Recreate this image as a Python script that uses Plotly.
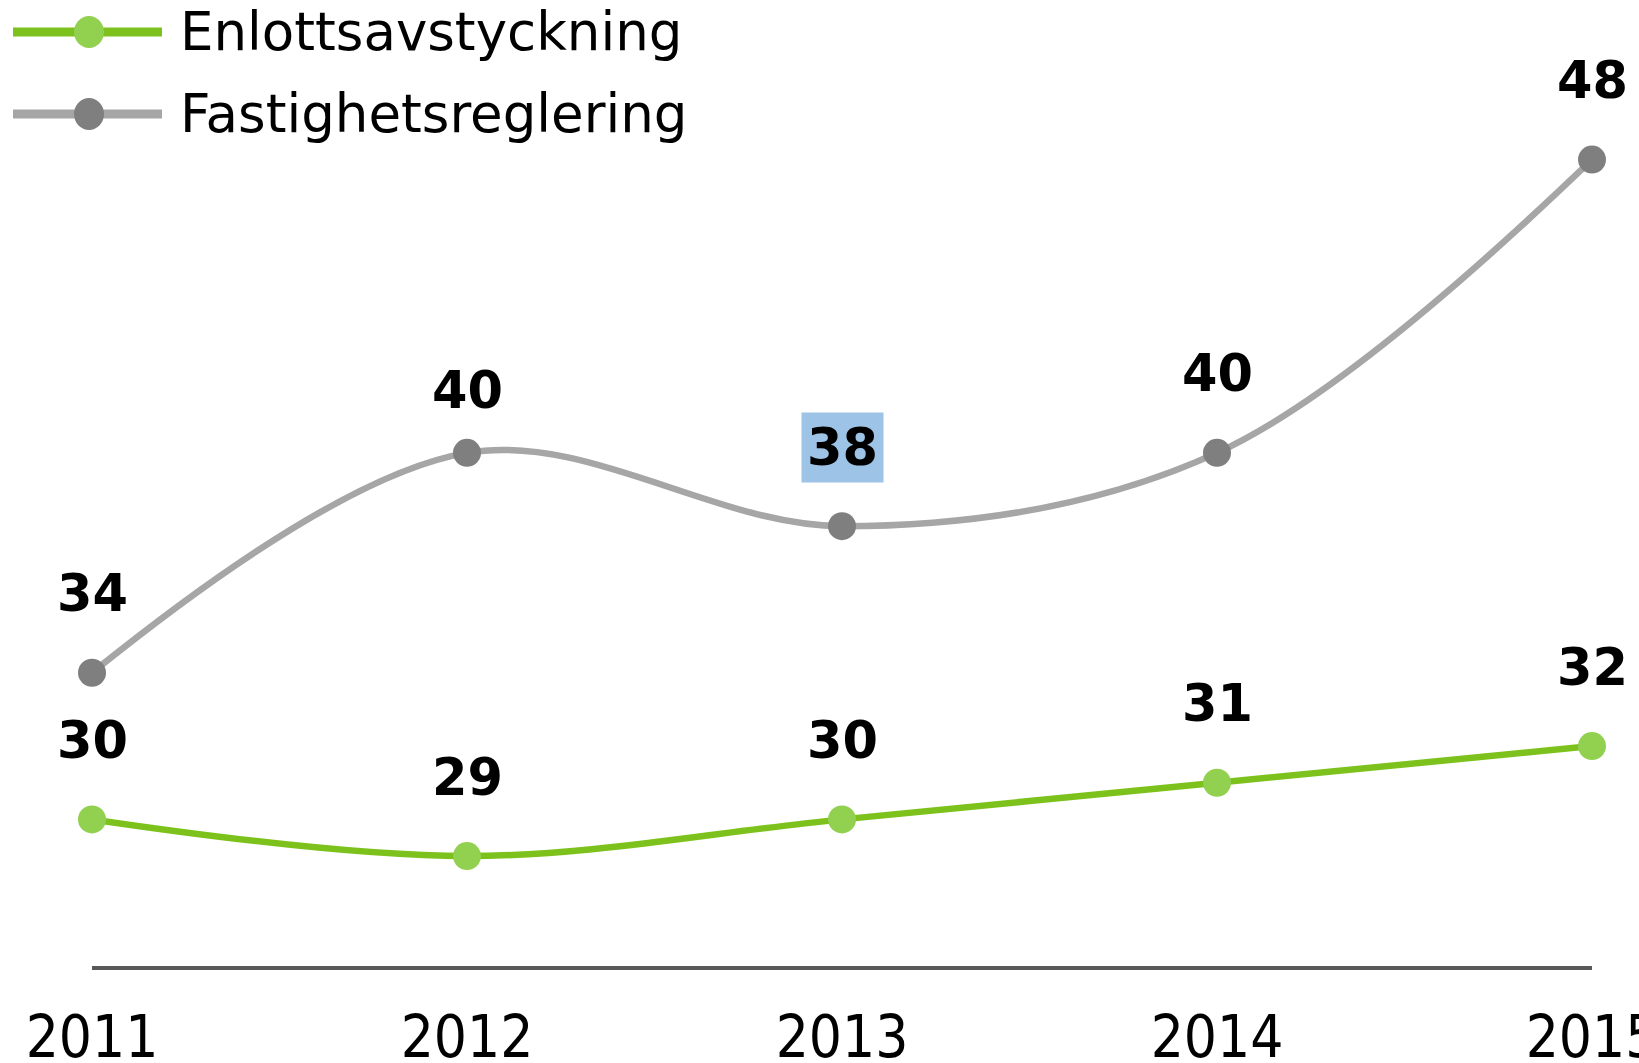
import plotly.graph_objects as go

years = [2011, 2012, 2013, 2014, 2015]
enlott = [30, 29, 30, 31, 32]
fastighet = [34, 40, 38, 40, 48]
series_names = ["Enlottsavstyckning", "Fastighetsreglering"]
tick_labels = ["2011", "2012", "2013", "2014", "2015"]

W, H = 1639, 1063
ML, MR, MT, MB = 92, 47, 13, 97
PW, PH = W - ML - MR, H - MT - MB

GREEN_LINE, GREEN_MARK = "#7dc21c", "#92d050"
GRAY_LINE, GRAY_MARK = "#a6a6a6", "#7f7f7f"
FONT = "DejaVu Sans, Verdana, sans-serif"
FONT_C = "DejaVu Sans Condensed, DejaVu Sans, Verdana, sans-serif"

fig = go.Figure()
for name, vals, lc, mc in [(series_names[0], enlott, GREEN_LINE, GREEN_MARK),
                           (series_names[1], fastighet, GRAY_LINE, GRAY_MARK)]:
    fig.add_trace(go.Scatter(
        x=years, y=vals, name=name, mode="lines+markers",
        line=dict(color=lc, width=6.5, shape="spline", smoothing=1),
        marker=dict(color=mc, size=28, line=dict(width=0)),
        showlegend=False, cliponaxis=False))

annotations = []
for i, (x, v) in enumerate(zip(years, fastighet)):
    shift = 62 if i == 1 else 79
    a = dict(x=x, y=v, text=f"<b>{v}</b>", showarrow=False, yshift=shift,
             font=dict(family=FONT, size=51, color="#000000"), xref="x", yref="y")
    if i == 2:
        a.update(bgcolor="#9dc3e6", borderpad=5)
    annotations.append(a)
for x, v in zip(years, enlott):
    annotations.append(dict(x=x, y=v, text=f"<b>{v}</b>", showarrow=False, yshift=79,
                            font=dict(family=FONT, size=51, color="#000000"),
                            xref="x", yref="y"))

# custom legend (pixel-placed)
def px_x(px):
    return (px - ML) / PW

def px_y(py):
    return (H - MB - py) / PH

shapes = []
for name, lc, mc, py in [(series_names[0], GREEN_LINE, GREEN_MARK, 32),
                         (series_names[1], GRAY_LINE, GRAY_MARK, 114)]:
    shapes.append(dict(type="line", xref="paper", yref="paper",
                       x0=px_x(13), x1=px_x(162), y0=px_y(py), y1=px_y(py),
                       line=dict(color=lc, width=9)))
    shapes.append(dict(type="circle", xref="paper", yref="paper",
                       xsizemode="pixel", ysizemode="pixel",
                       xanchor=px_x(89), yanchor=px_y(py),
                       x0=-15, x1=15, y0=-16, y1=16,
                       fillcolor=mc, line=dict(width=0)))
    annotations.append(dict(xref="paper", yref="paper", x=px_x(178), y=px_y(py),
                            xanchor="left", yanchor="middle", text=name, showarrow=False,
                            font=dict(family=FONT, size=53, color="#000000")))

fig.update_layout(
    template="none",
    width=W, height=H,
    margin=dict(l=ML, r=MR, t=MT, b=MB, pad=0, autoexpand=False),
    paper_bgcolor="white", plot_bgcolor="white",
    annotations=annotations, shapes=shapes,
    xaxis=dict(range=[2011, 2015], tickvals=years, ticktext=tick_labels,
               showgrid=False, zeroline=False, showline=True, linecolor="#595959",
               linewidth=4, ticks="", ticklabelstandoff=17, automargin=False,
               ticklabeloverflow="allow",
               tickfont=dict(family=FONT_C, size=58, color="#000000")),
    yaxis=dict(range=[26, 52], showgrid=False, zeroline=False, showline=False,
               showticklabels=False, ticks="", automargin=False),
)

fig.write_html("out.html", config={"displayModeBar": False},
               post_script="document.body.style.margin='0';document.body.style.overflow='hidden';")
